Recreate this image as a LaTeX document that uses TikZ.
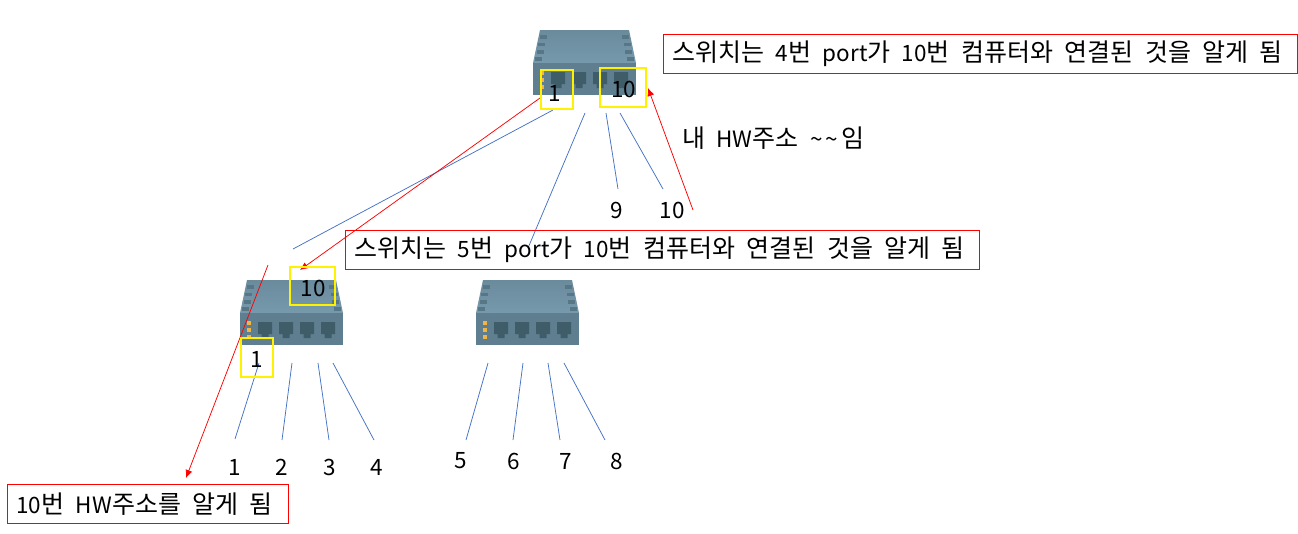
\documentclass[tikz,border=0pt]{standalone}
\usepackage{fontspec}
\setmainfont{Noto Sans CJK KR}
\usetikzlibrary{arrows.meta}
\definecolor{lineblue}{HTML}{4472C4}
\definecolor{topfaceA}{HTML}{6A8B9C}
\definecolor{topfaceB}{HTML}{7699AC}
\definecolor{frontface}{HTML}{5F7F90}
\definecolor{slot}{HTML}{587786}
\definecolor{jack}{HTML}{3F5C69}
\definecolor{led}{HTML}{F2B544}
\newcommand\lowtext[1]{\lower1.5pt\hbox{\spaceskip=11.4pt\relax #1}}
\newcommand\lat[1]{{\fontsize{22.5}{26}\selectfont #1}}
\tikzset{
  x=1pt,y=-1pt,
  wire/.style={draw=lineblue,line width=0.75pt},
  redarrow/.style={draw=red,line width=0.75pt,-{Latex[length=8pt,width=7pt]}},
  callout/.style={draw=red,line width=1pt,font=\fontsize{25}{28}\selectfont,anchor=west,inner ysep=0pt,inner xsep=9pt,minimum height=39pt,align=left},
  plain/.style={font=\fontsize{22.5}{26}\selectfont,inner sep=0pt},
  marker/.style={draw=yellow,line width=2pt,fill=none,inner sep=0pt},
  switchbox/.pic={
    \shade[top color=topfaceA,bottom color=topfaceB] (7,0) -- (96,0) -- (103,33) -- (0,33) -- cycle;
    \fill[frontface] (0,33) rectangle (103,65);
    \foreach \yy/\dd in {5/0,12.5/1,20/2,27/3}{
      \fill[slot] (7-\dd*1.7,\yy) rectangle ++(7,3.5);
      \fill[slot] (89+\dd*1.7,\yy) rectangle ++(7,3.5);
    }
    \foreach \xx in {18,39,60,81}{
      \fill[jack] (\xx,42) -- ++(14,0) -- ++(0,12) -- ++(-3.5,0) -- ++(0,4) -- ++(-7,0) -- ++(0,-4) -- ++(-3.5,0) -- cycle;
    }
    \foreach \yy in {41,48,55}{
      \fill[led] (7,\yy) rectangle ++(3.5,3.5);
    }
  }
}
\begin{document}
\begin{tikzpicture}
\useasboundingbox (0,0) rectangle (1298,533);
\pic at (533,30) {switchbox};
\pic at (240,280) {switchbox};
\pic at (476,280) {switchbox};
% free ends
\foreach \n/\x/\y in {
 a1/553/110,a2/293/249,b1/585/113,b2/528/248,c1/606/113,c2/618/189,d1/620/113,d2/663/189,
 e1/259/363,e2/235/439,f1/292/363,f2/282/440,g1/318/363,g2/329/440,h1/333/363,h2/374/440,
 i1/488/363,i2/466/440,j1/523/363,j2/513/440,k1/548/363,k2/560/440,l1/564/363,l2/605/440,
 r1/693/210,r2/648/88,s1/540/98,s2/300/270,t1/268/265,t2/186/478}{
 \coordinate (\n) at (\x,\y);
}
\foreach \p/\q in {a1/a2,b1/b2,c1/c2,d1/d2,e1/e2,f1/f2,g1/g2,h1/h2,i1/i2,j1/j2,k1/k2,l1/l2}{
 \draw[wire] (\p) -- (\q);
}
\node[callout,text width=616pt] (box5) at (345,250) {\lowtext{스위치는 \lat{5}번 \lat{port}가 \lat{10}번 컴퓨터와 연결된 것을 알게 됨}};
\node[callout,text width=616pt] (box4) at (663,54) {\lowtext{스위치는 \lat{4}번 \lat{port}가 \lat{10}번 컴퓨터와 연결된 것을 알게 됨}};
\node[callout,text width=263pt] (box10) at (7,504) {\lowtext{\lat{10}번 \lat{HW}주소를 알게 됨}};
\foreach \n/\x/\y/\t in {
 n1/235/467/1,n2/282/467/2,n3/330/467/3,n4/376.5/467/4,
 n5/461/461/5,n6/514/461/6,n7/566/461/7,n8/617/461/8,
 n9/617/210/9,n10/672/210/10,
 sa/555/93/1,sb/623.5/89/10,la/313/288/10,lb/256.5/359/1}{
 \node[plain] (\n) at (\x,\y) {\t};
}
\node[font=\fontsize{25}{28}\selectfont,inner sep=0pt,anchor=west] (me) at (682,138) {\lowtext{내 \lat{HW}주소 \lat{\textasciitilde\hspace{3pt}\textasciitilde}\hspace{3pt}임}};
\draw[redarrow] (r1) -- (r2);
\draw[redarrow] (s1) -- (s2);
\draw[redarrow] (t1) -- (t2);
\node[marker,minimum width=32pt,minimum height=39pt] (ya) at (556.5,89) {};
\node[marker,minimum width=46pt,minimum height=39pt] (yb) at (623,87) {};
\node[marker,minimum width=45pt,minimum height=38pt] (yc) at (312,285.5) {};
\node[marker,minimum width=32pt,minimum height=39pt] (yd) at (256.5,357) {};
\end{tikzpicture}
\end{document}
